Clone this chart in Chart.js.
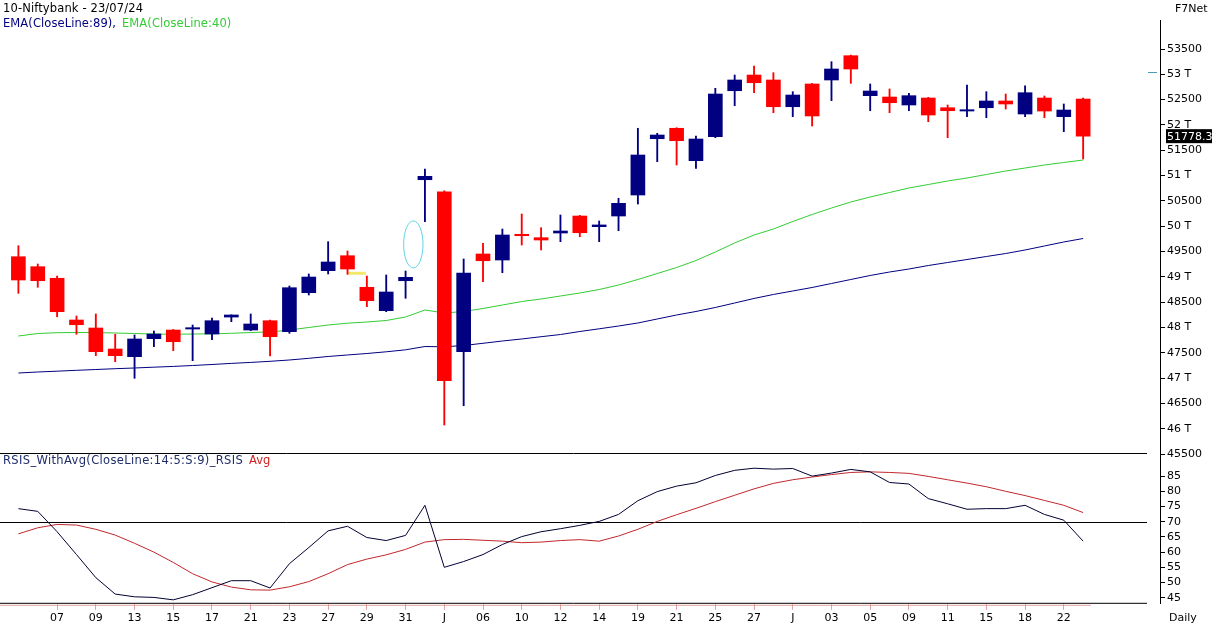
<!DOCTYPE html>
<html>
<head>
<meta charset="utf-8">
<script src="https://cdn.jsdelivr.net/npm/chart.js@4.4.1/dist/chart.umd.min.js"></script>
<style>
    html, body { margin: 0; padding: 0; background: #fff; }
    #wrap { position: relative; width: 1212px; height: 627px; overflow: hidden; font-family: "DejaVu Sans", Verdana, sans-serif; font-size: 11px; }
    canvas { position: absolute; left: 0; }
    #priceChart { top: 0; }
    #rsiChart { top: 440px; }
    .lbl { position: absolute; white-space: nowrap; line-height: 13px; color: #000; }
    .big { font-size: 11.5px; }
</style>
</head>
<body>
<div id="wrap">
    <canvas id="priceChart" width="1212" height="470"></canvas>
    <canvas id="rsiChart" width="1212" height="187"></canvas>
    <div class="lbl big" style="left:3px;top:2px;letter-spacing:0.13px;">10-Niftybank - 23/07/24</div>
    <div class="lbl big" style="left:3px;top:17px;color:#000080;letter-spacing:0.09px;">EMA(CloseLine:89),</div>
    <div class="lbl big" style="left:122px;top:17px;color:#33cc33;letter-spacing:0.09px;">EMA(CloseLine:40)</div>
    <div class="lbl" style="left:1175px;top:2px;">F7Net</div>
    <div class="lbl big" style="left:3px;top:454px;color:#1f2d6b;letter-spacing:0.35px;">RSIS_WithAvg(CloseLine:14:5:S:9)_RSIS</div>
    <div class="lbl big" style="left:249px;top:454px;color:#cc2222;">Avg</div>
    <div class="lbl" style="left:1169px;top:611px;">Daily</div>
</div>
<script>
// Trading days shown on the chart
const dates = [
    "2024-05-03", "2024-05-06", "2024-05-07", "2024-05-08", "2024-05-09", "2024-05-10",
    "2024-05-13", "2024-05-14", "2024-05-15", "2024-05-16", "2024-05-17", "2024-05-18",
    "2024-05-21", "2024-05-22", "2024-05-23", "2024-05-24", "2024-05-27", "2024-05-28",
    "2024-05-29", "2024-05-30", "2024-05-31",
    "2024-06-03", "2024-06-04", "2024-06-05", "2024-06-06", "2024-06-07", "2024-06-10",
    "2024-06-11", "2024-06-12", "2024-06-13", "2024-06-14", "2024-06-18", "2024-06-19",
    "2024-06-20", "2024-06-21", "2024-06-24", "2024-06-25", "2024-06-26", "2024-06-27",
    "2024-06-28",
    "2024-07-01", "2024-07-02", "2024-07-03", "2024-07-04", "2024-07-05", "2024-07-08",
    "2024-07-09", "2024-07-10", "2024-07-11", "2024-07-12", "2024-07-15", "2024-07-16",
    "2024-07-18", "2024-07-19", "2024-07-22", "2024-07-23"
];

const openPrices = [
    49397, 49200, 48971, 48147, 47989, 47574, 47422, 47778, 47949, 47969, 47870, 48205,
    47949, 48133, 47916, 48686, 49121, 49417, 48793, 48331, 48923,
    50918, 50681, 47521, 49451, 49332, 49840, 49773, 49865, 50201, 49990, 50201, 50616,
    51728, 51934, 51294, 51768, 52676, 52986, 52888,
    52360, 52809, 52888, 53368, 52578, 52552, 52394, 52532, 52340, 52275, 52340, 52473,
    52216, 52532, 52163, 52512
];
const highPrices = [
    49615, 49253, 49016, 48226, 48266, 47865, 47851, 47930, 47960, 48048, 48186, 48250,
    48266, 48145, 48819, 49056, 49694, 49510, 49016, 49036, 49115,
    51130, 50700, 49352, 49662, 49944, 50241, 49970, 50221, 50215, 50103, 50551, 51934,
    51835, 51945, 51781, 52724, 52986, 53164, 53032,
    52657, 52820, 53249, 53380, 52809, 52710, 52625, 52545, 52394, 52789, 52657, 52611,
    52775, 52572, 52414, 52532
];
const lowPrices = [
    48674, 48793, 48212, 47865, 47442, 47323, 46995, 47620, 47541, 47343, 47758, 48113,
    47936, 47436, 47884, 48641, 49056, 49050, 48410, 48311, 48576,
    50089, 46073, 46454, 48903, 49081, 49628, 49530, 49694, 49792, 49694, 49911, 50438,
    51274, 51209, 51143, 51748, 52380, 52637, 52242,
    52163, 51979, 52479, 52822, 52281, 52242, 52281, 52064, 51748, 52163, 52143, 52315,
    52163, 52143, 51866, 51327
];
const closePrices = [
    48937, 48923, 48311, 48054, 47521, 47442, 47772, 47870, 47718, 47995, 48133, 48246,
    48068, 47817, 48785, 48996, 49293, 49154, 48528, 48700, 48990,
    50985, 46948, 49075, 49318, 49826, 49812, 49727, 49905, 49871, 50025, 50452, 51406,
    51801, 51689, 51722, 52611, 52888, 52834, 52360,
    52591, 52177, 53105, 53105, 52670, 52439, 52578, 52196, 52281, 52301, 52473, 52414,
    52637, 52275, 52295, 51778.3
];

const ema89 = [
    47100, 47120, 47136, 47153, 47169, 47185, 47199, 47215, 47230, 47248, 47268, 47290,
    47309, 47331, 47357, 47390, 47426, 47456, 47485, 47519, 47558,
    47623, 47618, 47643, 47687, 47732, 47772, 47817, 47860, 47920, 47973, 48028, 48088,
    48167, 48246, 48315, 48394, 48483, 48572, 48651,
    48720, 48789, 48868, 48947, 49026, 49095, 49154, 49223, 49283, 49342, 49401, 49460,
    49530, 49609, 49688, 49757
];
const ema40 = [
    47831, 47880, 47896, 47900, 47900, 47890, 47880, 47870, 47866, 47870, 47874, 47884,
    47900, 47910, 47949, 47999, 48048, 48084, 48107, 48137, 48206,
    48345, 48285, 48315, 48374, 48443, 48512, 48562, 48621, 48680, 48749, 48838, 48947,
    49065, 49184, 49322, 49490, 49668, 49826, 49944,
    50093, 50231, 50359, 50478, 50577, 50665, 50754, 50823, 50893, 50952, 51021, 51090,
    51149, 51209, 51258, 51307
];

const rsi = [
    74.3, 73.4, 66.7, 59.2, 51.6, 46.2, 45.3, 45.1, 44.3, 46.0, 48.3, 50.6,
    50.6, 48.2, 56.2, 61.5, 67.0, 68.5, 64.8, 63.8, 65.5,
    75.4, 55.0, 56.9, 59.2, 62.5, 65.1, 66.7, 67.7, 68.8, 70.1, 72.4, 76.9,
    79.9, 81.7, 82.8, 85.2, 86.9, 87.6, 87.3,
    87.5, 85.0, 86.0, 87.2, 86.4, 82.9, 82.4, 77.6, 75.9, 74.1, 74.3, 74.3,
    75.4, 72.4, 70.5, 63.6
];
const rsiAvg = [
    66.0, 68.0, 69.1, 68.9, 67.5, 65.6, 62.9, 60.0, 56.6, 52.9, 50.2, 48.5,
    47.6, 47.5, 48.6, 50.3, 52.9, 55.9, 57.7, 59.1, 60.9,
    63.3, 64.1, 64.2, 63.9, 63.6, 63.1, 63.3, 63.8, 64.1, 63.6, 65.3, 67.5,
    70.1, 72.3, 74.4, 76.6, 78.7, 80.8, 82.6,
    83.8, 84.7, 85.5, 86.2, 86.4, 86.2, 85.9, 84.9, 83.8, 82.7, 81.5, 80.0,
    78.6, 77.0, 75.4, 73.0
];

const priceTicks = [45500, 46000, 46500, 47000, 47500, 48000, 48500, 49000, 49500,
    50000, 50500, 51000, 51500, 52000, 52500, 53000, 53500];
const rsiTicks = [45, 50, 55, 60, 65, 70, 75, 80, 85];
const monthInitials = ["J", "F", "M", "A", "M", "J", "J", "A", "S", "O", "N", "D"];

// Hand-drawn marks on the original chart (data coordinates)
const yellowMark = { from: 17, to: 17.95, price: 49070 };
const cyanEllipse = { x: 20.4, halfWidth: 0.5, low: 49175, high: 50105 };
const tealMarkPrice = 53046;

const RED = "#ff0000";
const NAVY = "#000080";
const FONT = "'DejaVu Sans', Verdana, sans-serif";

Chart.defaults.font.family = FONT;
Chart.defaults.font.size = 11;
Chart.defaults.color = "#000";

const xMin = -0.382;
const xMax = 58.97;
const axisWidth = 52;

const candleColors = closePrices.map((c, i) => (c < openPrices[i] ? RED : NAVY));
const bodies = dates.map((d, i) => ({ x: i, y: [Math.min(openPrices[i], closePrices[i]), Math.max(openPrices[i], closePrices[i])] }));
const wicks = dates.map((d, i) => ({ x: i, y: [lowPrices[i], highPrices[i]] }));
const toPoints = arr => arr.map((v, i) => ({ x: i, y: v }));

const priceOverlay = {
    id: "priceOverlay",
    beforeDatasetsDraw(chart) {
        const { ctx, scales: { x, y } } = chart;
        ctx.save();
        // cyan ellipse
        const cx = x.getPixelForValue(cyanEllipse.x);
        const rx = x.getPixelForValue(cyanEllipse.x + cyanEllipse.halfWidth) - cx;
        const top = y.getPixelForValue(cyanEllipse.high);
        const bot = y.getPixelForValue(cyanEllipse.low);
        ctx.strokeStyle = "#5fd3e3";
        ctx.lineWidth = 1;
        ctx.beginPath();
        ctx.ellipse(cx, (top + bot) / 2, rx, (bot - top) / 2, 0, 0, Math.PI * 2);
        ctx.stroke();
        ctx.restore();
    },
    afterDraw(chart) {
        const { ctx, chartArea, scales: { y } } = chart;
        ctx.save();
        // panel separator
        ctx.strokeStyle = "#000";
        ctx.lineWidth = 1;
        ctx.beginPath();
        ctx.moveTo(0, chartArea.bottom - 0.5);
        ctx.lineTo(y.left - 13, chartArea.bottom - 0.5);
        ctx.stroke();
        // small teal marker left of the axis
        const ty = Math.round(y.getPixelForValue(tealMarkPrice)) + 0.5;
        ctx.strokeStyle = "#4a9fb8";
        ctx.beginPath();
        ctx.moveTo(y.left - 12, ty);
        ctx.lineTo(y.left - 3, ty);
        ctx.stroke();
        // last price box
        const last = closePrices[closePrices.length - 1];
        const ly = y.getPixelForValue(last);
        ctx.fillStyle = "#000";
        ctx.fillRect(y.left + 6, ly - 7, chart.width - y.left - 6, 14);
        ctx.fillStyle = "#fff";
        ctx.font = "11px " + FONT;
        ctx.textBaseline = "middle";
        ctx.textAlign = "left";
        ctx.fillText(String(last), y.left + 7, ly + 0.5);
        ctx.restore();
    }
};

new Chart(document.getElementById("priceChart"), {
    data: {
        datasets: [
            { type: "line", data: toPoints(ema89), borderColor: NAVY, borderWidth: 1, pointRadius: 0, order: 4 },
            { type: "line", data: toPoints(ema40), borderColor: "#33cc33", borderWidth: 1, pointRadius: 0, order: 4 },
            {
                type: "line",
                data: [{ x: yellowMark.from, y: yellowMark.price }, { x: yellowMark.to, y: yellowMark.price }],
                borderColor: "#f3e76b", borderWidth: 3, pointRadius: 0, order: 3
            },
            { type: "bar", data: wicks, backgroundColor: candleColors, barThickness: 1.2, grouped: false, order: 2 },
            { type: "bar", data: bodies, backgroundColor: candleColors, barThickness: 14, grouped: false, order: 1 }
        ]
    },
    options: {
        responsive: false,
        animation: false,
        devicePixelRatio: 1,
        events: [],
        layout: { padding: { left: 11, top: 20, bottom: 16, right: 0 } },
        plugins: { legend: { display: false }, tooltip: { enabled: false } },
        scales: {
            x: {
                type: "linear",
                min: xMin,
                max: xMax,
                offset: false,
                display: true,
                grid: { display: false, drawTicks: false, offset: false },
                border: { display: false },
                ticks: { display: false }
            },
            y: {
                position: "right",
                min: 45500,
                max: 54073,
                afterBuildTicks: s => { s.ticks = priceTicks.map(v => ({ value: v })); },
                afterFit: s => { s.width = axisWidth; },
                grid: { drawOnChartArea: false, tickLength: 5, color: "#000" },
                border: { color: "#000" },
                ticks: {
                    padding: 2,
                    color: "#000",
                    callback: v => (v % 1000 === 0 ? (v / 1000) + " T" : String(v))
                }
            }
        }
    },
    plugins: [priceOverlay]
});

const rsiOverlay = {
    id: "rsiOverlay",
    beforeDatasetsDraw(chart) {
        const { ctx, scales: { y } } = chart;
        const right = y.left - 13;
        ctx.save();
        ctx.strokeStyle = "#000";
        ctx.lineWidth = 1;
        const y70 = Math.round(y.getPixelForValue(70)) + 0.5;
        ctx.beginPath();
        ctx.moveTo(0, y70);
        ctx.lineTo(right, y70);
        ctx.stroke();
        ctx.restore();
    },
    afterDraw(chart) {
        const { ctx, chartArea, scales: { x, y } } = chart;
        const right = y.left - 13;
        ctx.save();
        ctx.lineWidth = 1;
        ctx.strokeStyle = "#e3a0a0";
        ctx.beginPath();
        ctx.moveTo(0, chartArea.bottom + 1.5);
        ctx.lineTo(x.getPixelForValue(dates.length - 0.6), chartArea.bottom + 1.5);
        ctx.stroke();
        ctx.strokeStyle = "#000";
        ctx.beginPath();
        ctx.moveTo(0, chartArea.bottom - 0.5);
        ctx.lineTo(right, chartArea.bottom - 0.5);
        ctx.stroke();
        ctx.restore();
    }
};

const labelTicks = [];
for (let i = 2; i < dates.length; i += 2) labelTicks.push(i);

new Chart(document.getElementById("rsiChart"), {
    type: "line",
    data: {
        datasets: [
            { data: toPoints(rsi), borderColor: "#000033", borderWidth: 1, pointRadius: 0, order: 1 },
            { data: toPoints(rsiAvg), borderColor: "#c0282d", borderWidth: 1, pointRadius: 0, order: 2 }
        ]
    },
    options: {
        responsive: false,
        animation: false,
        devicePixelRatio: 1,
        events: [],
        layout: { padding: { left: 11, top: 13, bottom: 0, right: 0 } },
        plugins: { legend: { display: false }, tooltip: { enabled: false } },
        scales: {
            x: {
                type: "linear",
                min: xMin,
                max: xMax,
                afterBuildTicks: s => { s.ticks = labelTicks.map(v => ({ value: v })); },
                grid: { drawOnChartArea: false, tickLength: 6, color: "#e3a0a0" },
                border: { display: false },
                ticks: {
                    autoSkip: false,
                    maxRotation: 0,
                    padding: 2,
                    color: "#000",
                    callback: v => {
                        const d = dates[v];
                        const prev = dates[v - 2];
                        if (v > labelTicks[0] && prev && prev.slice(5, 7) !== d.slice(5, 7)) {
                            return monthInitials[Number(d.slice(5, 7)) - 1];
                        }
                        return d.slice(8, 10);
                    }
                }
            },
            y: {
                position: "right",
                min: 43,
                max: 92.6,
                afterBuildTicks: s => { s.ticks = rsiTicks.map(v => ({ value: v })); },
                afterFit: s => { s.width = axisWidth; },
                grid: { drawOnChartArea: false, tickLength: 5, color: "#000" },
                border: { color: "#000" },
                ticks: { padding: 2, color: "#000" }
            }
        }
    },
    plugins: [rsiOverlay]
});
</script>
</body>
</html>
